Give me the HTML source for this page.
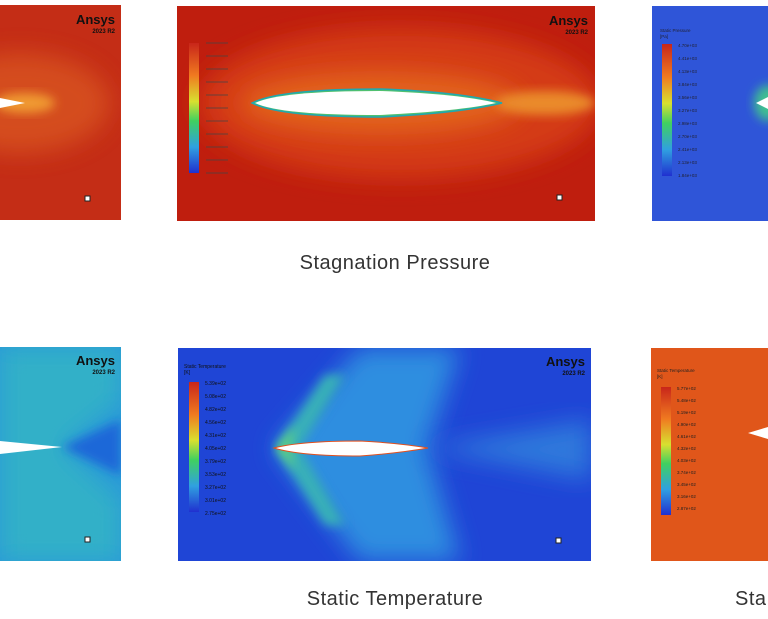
<!DOCTYPE html>
<html><head><meta charset="utf-8"><style>
html,body{margin:0;padding:0;background:#fff;width:768px;height:619px;overflow:hidden}
svg{display:block}
text{font-family:"Liberation Sans",sans-serif}
</style></head><body>
<svg width="768" height="619" viewBox="0 0 768 619" xmlns="http://www.w3.org/2000/svg">
<defs>
<linearGradient id="jet" x1="0" y1="0" x2="0" y2="1">
<stop offset="0" stop-color="#c8261a"/><stop offset="0.25" stop-color="#f07a20"/><stop offset="0.45" stop-color="#d8e030"/><stop offset="0.6" stop-color="#40d060"/><stop offset="0.8" stop-color="#30a0e0"/><stop offset="1" stop-color="#2030d0"/>
</linearGradient>
<filter id="bl" x="-30%" y="-30%" width="160%" height="160%"><feGaussianBlur stdDeviation="12"/></filter>
<filter id="bl2" x="-30%" y="-30%" width="160%" height="160%"><feGaussianBlur stdDeviation="5"/></filter>
<clipPath id="c1"><rect x="177" y="6" width="418" height="215"/></clipPath>
<clipPath id="c2"><rect x="178" y="348" width="413" height="213"/></clipPath>
<clipPath id="c3"><rect x="0" y="347" width="121" height="214"/></clipPath>
<clipPath id="c4"><rect x="651" y="348" width="117" height="213"/></clipPath>
<clipPath id="c5"><rect x="0" y="5" width="121" height="215"/></clipPath>
<clipPath id="c6"><rect x="652" y="6" width="116" height="215"/></clipPath>
</defs>

<!-- top left -->
<g clip-path="url(#c5)">
<rect x="0" y="5" width="121" height="215" fill="#c42d16"/>
<ellipse cx="20" cy="103" rx="90" ry="50" fill="#dc5a22" filter="url(#bl)" opacity="0.7"/>
<ellipse cx="25" cy="103" rx="30" ry="10" fill="#f09a30" filter="url(#bl2)"/>
<path d="M0 98 L25 103 L0 108 Z" fill="#fff"/>
<text x="115" y="24" font-size="13" font-weight="bold" text-anchor="end" fill="#111">Ansys</text>
<text x="115" y="33" font-size="6" font-weight="bold" text-anchor="end" fill="#111">2023 R2</text>
<rect x="85" y="196" width="5" height="5" fill="#fff" stroke="#222"/>
</g>

<!-- top center -->
<g clip-path="url(#c1)">
<rect x="177" y="6" width="418" height="215" fill="#bf1e0e"/>
<ellipse cx="400" cy="103" rx="200" ry="75" fill="#d43a18" filter="url(#bl)"/>
<ellipse cx="380" cy="103" rx="140" ry="32" fill="#e2621d" filter="url(#bl)"/>
<ellipse cx="545" cy="103" rx="50" ry="12" fill="#ea8a2a" filter="url(#bl2)"/>
<path d="M252 103 Q280 89 380 89 Q460 92 502 103 Q460 113 380 117 Q280 117 252 103 Z" fill="#50c070" stroke="#20a8b0" stroke-width="1.5"/>
<path d="M255 103 Q280 91 380 91 Q460 94 496 103 Q460 111 380 115 Q280 115 255 103 Z" fill="#fff"/>
<rect x="189" y="43" width="10" height="130" fill="url(#jet)"/>
<g stroke="#444" stroke-width="0.8">
<line x1="206" y1="43" x2="228" y2="43"/><line x1="206" y1="56" x2="228" y2="56"/><line x1="206" y1="69" x2="228" y2="69"/><line x1="206" y1="82" x2="228" y2="82"/><line x1="206" y1="95" x2="228" y2="95"/><line x1="206" y1="108" x2="228" y2="108"/><line x1="206" y1="121" x2="228" y2="121"/><line x1="206" y1="134" x2="228" y2="134"/><line x1="206" y1="147" x2="228" y2="147"/><line x1="206" y1="160" x2="228" y2="160"/><line x1="206" y1="173" x2="228" y2="173"/>
</g>
<text x="588" y="25" font-size="13" font-weight="bold" text-anchor="end" fill="#111">Ansys</text>
<text x="588" y="34" font-size="6" font-weight="bold" text-anchor="end" fill="#111">2023 R2</text>
<rect x="557" y="195" width="5" height="5" fill="#fff" stroke="#222"/>
</g>

<!-- top right -->
<g clip-path="url(#c6)">
<rect x="652" y="6" width="116" height="215" fill="#2f55d8"/>
<rect x="662" y="44" width="10" height="132" fill="url(#jet)"/>
<g font-size="4.5" fill="#223"><text x="660" y="32">Static Pressure</text><text x="660" y="38">[Pa]</text>
<text x="678" y="47">4.70e+03</text><text x="678" y="60">4.41e+03</text><text x="678" y="73">4.13e+03</text><text x="678" y="86">3.84e+03</text><text x="678" y="99">3.56e+03</text><text x="678" y="112">3.27e+03</text><text x="678" y="125">2.98e+03</text><text x="678" y="138">2.70e+03</text><text x="678" y="151">2.41e+03</text><text x="678" y="164">2.13e+03</text><text x="678" y="177">1.84e+03</text></g>
<ellipse cx="768" cy="103" rx="14" ry="18" fill="#40c090" filter="url(#bl2)"/>
<path d="M768 97 L756 103 L768 109 Z" fill="#fff"/>
</g>

<text x="395" y="269" font-size="20" text-anchor="middle" fill="#333" letter-spacing="0.5">Stagnation Pressure</text>

<!-- bottom left -->
<g clip-path="url(#c3)">
<rect x="0" y="347" width="121" height="214" fill="#2a9ad8"/>
<path d="M0 347 L121 347 L121 400 L62 447 L121 500 L121 561 L0 561 Z" fill="#30b0c8" filter="url(#bl)"/>
<path d="M62 447 L121 420 L121 475 Z" fill="#1f68d8" filter="url(#bl2)"/>
<path d="M0 441 L62 447 L0 454 Z" fill="#fff"/>
<text x="115" y="365" font-size="13" font-weight="bold" text-anchor="end" fill="#111">Ansys</text>
<text x="115" y="374" font-size="6" font-weight="bold" text-anchor="end" fill="#111">2023 R2</text>
<rect x="85" y="537" width="5" height="5" fill="#fff" stroke="#222"/>
</g>

<!-- bottom center -->
<g clip-path="url(#c2)">
<rect x="178" y="348" width="413" height="213" fill="#1f45d6"/>
<path d="M274 448 L360 348 L460 348 L427 448 L460 561 L360 561 Z" fill="#2f8ee0" filter="url(#bl)"/>
<path d="M276 448 L325 375 L345 375 L300 448 L345 525 L325 525 Z" fill="#38b0b8" filter="url(#bl2)"/>
<path d="M276 448 L295 425 L290 448 L295 471 Z" fill="#60d080" filter="url(#bl2)"/>
<path d="M427 448 L591 420 L591 480 Z" fill="#2f78dc" filter="url(#bl)"/>
<path d="M274 448 Q300 441 360 441 Q400 443 428 448 Q400 453 360 456 Q300 456 274 448 Z" fill="#fff" stroke="#e05020" stroke-width="1"/>
<rect x="189" y="382" width="10" height="130" fill="url(#jet)"/>
<g font-size="5" fill="#111"><text x="184" y="368">Static Temperature</text><text x="184" y="374">[K]</text>
<text x="205" y="385">5.39e+02</text><text x="205" y="398">5.08e+02</text><text x="205" y="411">4.82e+02</text><text x="205" y="424">4.56e+02</text><text x="205" y="437">4.31e+02</text><text x="205" y="450">4.05e+02</text><text x="205" y="463">3.79e+02</text><text x="205" y="476">3.53e+02</text><text x="205" y="489">3.27e+02</text><text x="205" y="502">3.01e+02</text><text x="205" y="515">2.75e+02</text></g>
<text x="585" y="366" font-size="13" font-weight="bold" text-anchor="end" fill="#111">Ansys</text>
<text x="585" y="375" font-size="6" font-weight="bold" text-anchor="end" fill="#111">2023 R2</text>
<rect x="556" y="538" width="5" height="5" fill="#fff" stroke="#222"/>
</g>

<!-- bottom right -->
<g clip-path="url(#c4)">
<rect x="651" y="348" width="117" height="213" fill="#e0561a"/>
<rect x="661" y="387" width="10" height="128" fill="url(#jet)"/>
<g font-size="4.5" fill="#222"><text x="657" y="372">Static Temperature</text><text x="657" y="378">[K]</text>
<text x="677" y="390">5.77e+02</text><text x="677" y="402">5.48e+02</text><text x="677" y="414">5.19e+02</text><text x="677" y="426">4.90e+02</text><text x="677" y="438">4.61e+02</text><text x="677" y="450">4.32e+02</text><text x="677" y="462">4.03e+02</text><text x="677" y="474">3.74e+02</text><text x="677" y="486">3.45e+02</text><text x="677" y="498">3.16e+02</text><text x="677" y="510">2.87e+02</text></g>
<path d="M768 427 L748 433 L768 439 Z" fill="#fff"/>
</g>

<text x="395" y="605" font-size="20" text-anchor="middle" fill="#333" letter-spacing="0.5">Static Temperature</text>
<text x="735" y="605" font-size="20" fill="#333" letter-spacing="0.5">Sta</text>
</svg>
</body></html>
